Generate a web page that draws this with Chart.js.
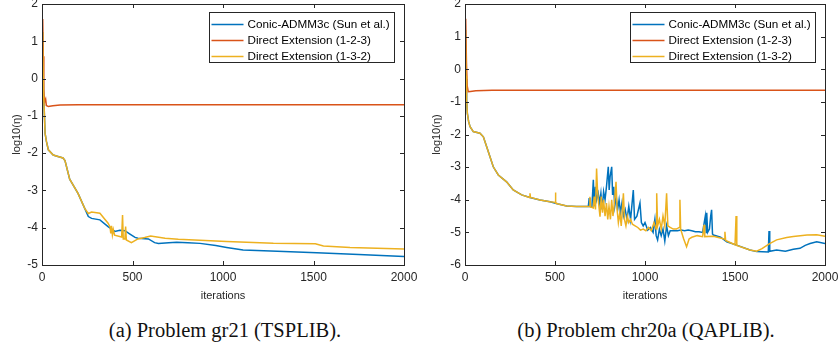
<!DOCTYPE html>
<html>
<head>
<meta charset="utf-8">
<script src="https://cdn.jsdelivr.net/npm/chart.js@4.4.1/dist/chart.umd.min.js"></script>
<style>
  body { margin: 0; background: #fff; }
  .wrap { position: absolute; top: 0; }
  .cap { position: absolute; top: 319px; font-family: "Liberation Serif", serif; font-size: 20.5px; color: #111; text-align: center; white-space: nowrap; }
</style>
</head>
<body>
<div class="wrap" style="left:0px"><canvas id="chart-a" width="420" height="305"></canvas></div>
<div class="wrap" style="left:420px"><canvas id="chart-b" width="419" height="305"></canvas></div>
<div class="cap" style="left:0px;width:450px">(a) Problem gr21 (TSPLIB).</div>
<div class="cap" style="left:430px;width:432px">(b) Problem chr20a (QAPLIB).</div>
<script>
const seriesNames = ['Conic-ADMM3c (Sun et al.)', 'Direct Extension (1-2-3)', 'Direct Extension (1-3-2)'];
const seriesColors = ['#0072BD', '#D95319', '#EDB120'];
const xTicks = [0, 500, 1000, 1500, 2000];

// (a) gr21 -- [iteration, log10(eta)]
const gr21Conic = [[0,1.25],[4,0.9],[8,-0.3],[12,-0.8],[17,-1.47],[25,-1.7],[35,-1.91],[62,-2.05],[88,-2.09],[116,-2.13],[127,-2.2],[153,-2.7],[199,-3.08],[236,-3.48],[256,-3.7],[274,-3.75],[320,-3.79],[365,-3.97],[403,-4.1],[430,-4.07],[458,-4.08],[486,-4.17],[514,-4.26],[530,-4.28],[588,-4.3],[622,-4.4],[643,-4.42],[700,-4.4],[744,-4.39],[806,-4.4],[873,-4.42],[960,-4.48],[1020,-4.53],[1111,-4.6],[1300,-4.63],[1518,-4.67],[1750,-4.72],[2000,-4.77]];
const gr21Ext123 = [[0,1.6],[4,1.58],[7,0.6],[10,-0.3],[13,-0.58],[16,-0.6],[20,-0.55],[24,-0.72],[35,-0.75],[60,-0.73],[100,-0.71],[200,-0.7],[2000,-0.7]];
const gr21Ext132 = [[0,1.25],[4,0.9],[8,-0.3],[12,-0.8],[17,-1.47],[25,-1.7],[35,-1.91],[62,-2.05],[88,-2.09],[116,-2.13],[127,-2.2],[153,-2.7],[199,-3.08],[236,-3.48],[256,-3.62],[274,-3.58],[320,-3.61],[365,-3.88],[376,-3.98],[380,-4.15],[384,-3.95],[389,-4.19],[394,-4.05],[401,-4.2],[440,-4.25],[445,-3.66],[449,-4.3],[458,-4.3],[462,-3.97],[466,-4.33],[494,-4.4],[530,-4.3],[567,-4.26],[600,-4.22],[680,-4.28],[753,-4.31],[1020,-4.37],[1278,-4.42],[1510,-4.43],[1555,-4.49],[1702,-4.53],[2000,-4.57]];
const gr21YTicks = [-5, -4, -3, -2, -1, 0, 1, 2];

// (b) chr20a
const chr20aConic = [[0,1.2],[3,0.8],[6,-0.3],[9,-0.94],[13,-1.35],[20,-1.6],[28,-1.76],[46,-1.91],[83,-1.96],[102,-2.07],[120,-2.37],[157,-2.99],[185,-3.24],[231,-3.45],[268,-3.7],[315,-3.85],[361,-3.93],[417,-4.01],[472,-4.06],[518,-4.13],[565,-4.19],[620,-4.21],[685,-4.21],[690,-3.95],[694,-4.21],[705,-4.22],[713,-3.39],[718,-4.2],[724,-3.6],[731,-4.0],[740,-3.8],[748,-4.1],[755,-3.8],[762,-4.3],[770,-3.75],[778,-4.0],[786,-3.6],[796,-2.99],[801,-3.7],[806,-3.3],[815,-2.99],[820,-3.85],[826,-3.6],[832,-4.2],[840,-3.9],[848,-4.3],[856,-4.0],[864,-4.4],[872,-4.1],[880,-4.5],[890,-4.3],[900,-4.6],[910,-4.2],[920,-4.6],[935,-3.7],[942,-4.6],[955,-4.5],[972,-4.1],[980,-4.7],[990,-4.8],[1000,-4.7],[1015,-4.93],[1030,-4.85],[1045,-5.0],[1055,-4.6],[1062,-5.1],[1070,-5.23],[1080,-4.9],[1090,-5.1],[1100,-4.9],[1110,-5.27],[1120,-4.8],[1130,-5.1],[1140,-4.95],[1160,-4.95],[1180,-4.95],[1200,-4.93],[1220,-4.95],[1240,-4.93],[1260,-4.95],[1280,-4.98],[1300,-4.98],[1320,-5.0],[1335,-4.5],[1340,-5.0],[1343,-4.4],[1348,-5.0],[1358,-4.9],[1365,-4.5],[1370,-4.31],[1375,-5.05],[1380,-5.08],[1420,-5.15],[1454,-5.29],[1509,-5.39],[1583,-5.54],[1620,-5.59],[1685,-5.6],[1689,-4.96],[1693,-5.58],[1731,-5.54],[1780,-5.58],[1824,-5.52],[1861,-5.49],[1890,-5.4],[1917,-5.34],[1954,-5.29],[2000,-5.34]];
const chr20aExt123 = [[0,1.55],[4,1.5],[8,0.2],[12,-0.5],[18,-0.69],[30,-0.68],[60,-0.66],[150,-0.64],[2000,-0.64]];
const chr20aExt132 = [[0,1.2],[3,0.9],[6,-0.2],[9,-0.94],[13,-1.35],[20,-1.6],[28,-1.76],[46,-1.91],[83,-1.96],[102,-2.07],[120,-2.37],[157,-2.99],[185,-3.24],[231,-3.45],[268,-3.7],[315,-3.85],[358,-3.93],[361,-3.8],[364,-3.93],[417,-4.01],[472,-4.06],[500,-4.08],[502,-3.78],[505,-4.1],[518,-4.13],[565,-4.19],[620,-4.21],[690,-4.21],[694,-3.91],[698,-4.22],[713,-4.25],[718,-3.9],[725,-4.3],[731,-3.04],[736,-3.7],[742,-4.1],[750,-4.52],[757,-3.9],[764,-4.4],[770,-4.0],[778,-4.5],[786,-4.1],[793,-4.6],[800,-4.2],[808,-4.6],[815,-4.0],[822,-4.5],[830,-4.1],[839,-3.45],[845,-4.3],[852,-4.7],[860,-4.4],[868,-4.8],[874,-4.3],[880,-3.8],[886,-4.6],[894,-4.8],[902,-4.5],[910,-4.7],[920,-4.6],[930,-4.75],[945,-4.8],[960,-4.85],[975,-4.93],[990,-4.9],[1005,-4.95],[1020,-4.85],[1035,-4.95],[1050,-4.7],[1062,-4.9],[1065,-3.8],[1070,-4.8],[1080,-4.6],[1090,-4.9],[1100,-4.5],[1110,-4.8],[1120,-3.8],[1127,-4.8],[1140,-4.85],[1157,-4.9],[1175,-4.9],[1190,-4.85],[1194,-4.0],[1198,-4.9],[1215,-5.2],[1231,-5.44],[1245,-5.2],[1260,-5.15],[1290,-5.1],[1320,-5.13],[1328,-4.77],[1332,-5.13],[1380,-5.12],[1440,-5.2],[1444,-4.98],[1448,-5.25],[1500,-5.38],[1506,-4.5],[1510,-5.4],[1583,-5.54],[1620,-5.58],[1650,-5.5],[1690,-5.35],[1731,-5.23],[1787,-5.16],[1824,-5.13],[1900,-5.08],[1954,-5.07],[2000,-5.12]];
const chr20aYTicks = [-6, -5, -4, -3, -2, -1, 0, 1, 2];

const axisColor = '#262626';

// box around the axes with inward tick marks on all four sides
const frameTicks = {
  id: 'frameTicks',
  afterDatasetsDraw(chart) {
    const ctx = chart.ctx, a = chart.chartArea;
    const xs = chart.scales.x, ys = chart.scales.y;
    ctx.save();
    ctx.strokeStyle = axisColor;
    ctx.lineWidth = 1;
    ctx.beginPath();
    xs.ticks.forEach(t => {
      const px = Math.round(xs.getPixelForValue(t.value)) + 0.5;
      ctx.moveTo(px, a.bottom); ctx.lineTo(px, a.bottom - 4);
      ctx.moveTo(px, a.top); ctx.lineTo(px, a.top + 4);
    });
    ys.ticks.forEach(t => {
      const py = Math.round(ys.getPixelForValue(t.value)) + 0.5;
      ctx.moveTo(a.left, py); ctx.lineTo(a.left + 4, py);
      ctx.moveTo(a.right, py); ctx.lineTo(a.right - 4, py);
    });
    ctx.stroke();
    ctx.strokeRect(Math.round(a.left) + 0.5, Math.round(a.top) + 0.5, Math.round(a.width), Math.round(a.height));
    ctx.restore();
  }
};

// MATLAB-style boxed legend in the top-right corner of the axes
const boxLegend = {
  id: 'boxLegend',
  afterDraw(chart) {
    const ctx = chart.ctx, a = chart.chartArea;
    const w = 185, h = 50;
    const left = Math.round(a.right - 10 - w) + 0.5, top = Math.round(a.top + 8) + 0.5;
    ctx.save();
    ctx.fillStyle = '#fff';
    ctx.fillRect(left, top, w, h);
    ctx.strokeStyle = axisColor;
    ctx.lineWidth = 1;
    ctx.strokeRect(left, top, w, h);
    ctx.font = '11.7px "Liberation Sans", Arial, sans-serif';
    ctx.textBaseline = 'middle';
    chart.data.datasets.forEach((ds, i) => {
      const yy = top + 12 + i * 16;
      ctx.strokeStyle = ds.borderColor;
      ctx.lineWidth = 1.5;
      ctx.beginPath();
      ctx.moveTo(left + 2, yy); ctx.lineTo(left + 34, yy);
      ctx.stroke();
      ctx.fillStyle = '#000';
      ctx.fillText(ds.label, left + 38, yy);
    });
    ctx.restore();
  }
};

function toPoints(arr) {
  return arr.map(p => ({ x: p[0], y: p[1] }));
}

function makeChart(id, conic, ext123, ext132, yTicks, yAxisWidth, padRight) {
  const series = [conic, ext123, ext132];
  new Chart(document.getElementById(id).getContext('2d'), {
    type: 'line',
    data: {
      datasets: series.map((s, i) => ({
        label: seriesNames[i],
        data: toPoints(s),
        borderColor: seriesColors[i],
        backgroundColor: seriesColors[i],
        borderWidth: 1.5,
        pointRadius: 0,
        tension: 0,
        order: 3 - i
      }))
    },
    options: {
      responsive: false,
      animation: false,
      layout: { padding: { left: 0, right: padRight, top: 4, bottom: 0 } },
      plugins: { legend: { display: false }, tooltip: { enabled: false } },
      scales: {
        x: {
          type: 'linear',
          min: xTicks[0],
          max: xTicks[xTicks.length - 1],
          afterBuildTicks: s => { s.ticks = xTicks.map(v => ({ value: v })); },
          afterFit: s => { s.height = 40; s.paddingLeft = 0; s.paddingRight = 0; },
          grid: { display: false, drawTicks: false },
          border: { display: false },
          ticks: { color: axisColor, padding: 5, maxRotation: 0, callback: v => String(v), font: { family: 'Liberation Sans', size: 12 } },
          title: { display: true, text: 'iterations', color: axisColor, padding: { top: 0, bottom: 2 }, font: { family: 'Liberation Sans', size: 11 } }
        },
        y: {
          type: 'linear',
          min: yTicks[0],
          max: yTicks[yTicks.length - 1],
          afterBuildTicks: s => { s.ticks = yTicks.map(v => ({ value: v })); },
          afterFit: s => { s.width = yAxisWidth; s.paddingTop = 0; s.paddingBottom = 0; },
          grid: { display: false, drawTicks: false },
          border: { display: false },
          ticks: { color: axisColor, padding: 4, callback: v => String(v), font: { family: 'Liberation Sans', size: 12 } },
          title: { display: true, text: 'log10(η)', color: axisColor, padding: { top: 10, bottom: 0 }, font: { family: 'Liberation Sans', size: 11 } }
        }
      }
    },
    plugins: [frameTicks, boxLegend]
  });
}

makeChart('chart-a', gr21Conic, gr21Ext123, gr21Ext132, gr21YTicks, 42, 16);
makeChart('chart-b', chr20aConic, chr20aExt123, chr20aExt132, chr20aYTicks, 45, 14);
</script>
</body>
</html>
